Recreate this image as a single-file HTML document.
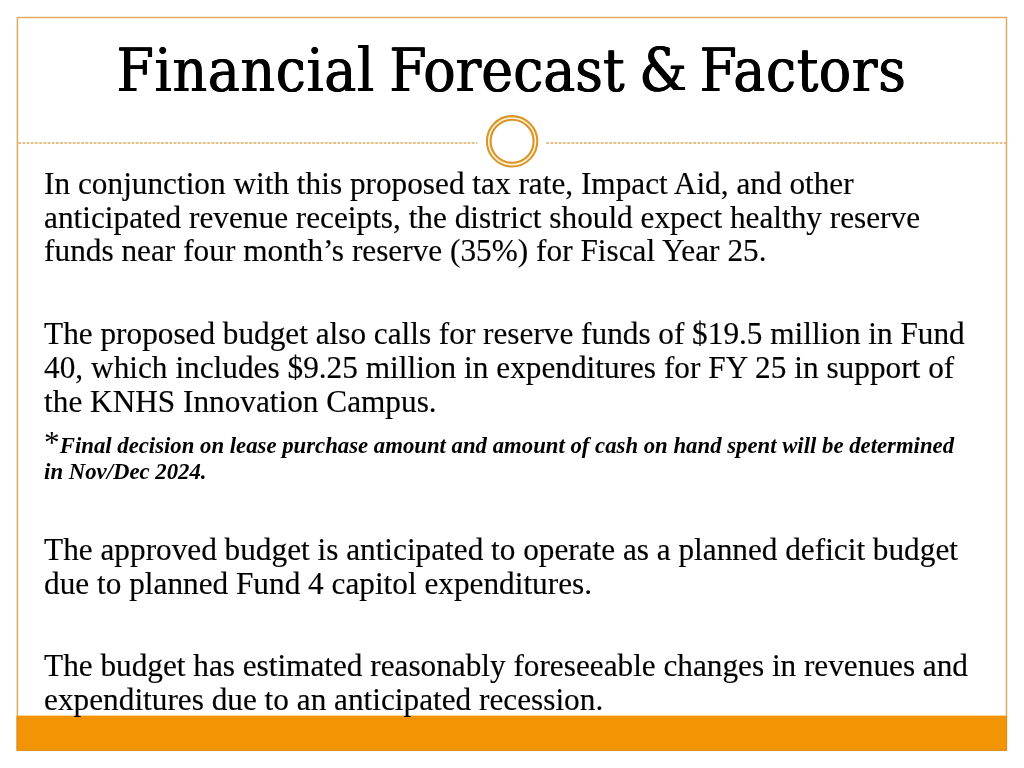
<!DOCTYPE html>
<html lang="en">
<head>
<meta charset="utf-8">
<title>Financial Forecast &amp; Factors</title>
<style>
  html, body { margin: 0; padding: 0; }
  body {
    width: 1024px; height: 768px; overflow: hidden; background: #ffffff;
    position: relative;
    font-family: "Liberation Serif", serif;
    color: #000;
  }
  svg.deco { position: absolute; left: 0; top: 0; }
  .title {
    position: absolute; left: 0; width: 1024px;
    top: 50px; margin: 0; font-weight: normal;
    font-family: "DejaVu Serif Condensed", "DejaVu Serif", "Liberation Serif", serif;
    font-stretch: condensed;
    text-shadow: 0.5px 0 0 #000, -0.5px 0 0 #000;
    font-size: 59.8px; line-height: 40px; height: 40px; white-space: nowrap;
  }
  .title span { position: absolute; top: 0; }
  .para { margin: 0; }
  .ln {
    position: absolute; left: 44.1px; margin: 0; white-space: nowrap; display: block;
    font-size: 31.27px; line-height: 40px; height: 40px;
    -webkit-text-stroke: 0.15px #000;
  }
  .note { font-size: 22.76px; font-weight: bold; font-style: italic; -webkit-text-stroke: 0; }
  .note .star { font-size: 31.27px; font-weight: normal; font-style: normal; line-height: 0; }
</style>
</head>
<body>
  <svg class="deco" width="1024" height="768" viewBox="0 0 1024 768">
    <rect x="17.4" y="17.5" width="989.1" height="732.8" fill="none" stroke="#deab60" stroke-width="1.5"/>
    <line x1="18.2" y1="143" x2="477.3" y2="143" stroke="#e0ac5e" stroke-width="1.7" stroke-dasharray="2.8 1.4"/>
    <line x1="546.2" y1="143" x2="1006" y2="143" stroke="#e0ac5e" stroke-width="1.7" stroke-dasharray="2.8 1.4"/>
    <circle cx="512.1" cy="141.3" r="23.3" fill="#fff" stroke="#fff4d6" stroke-width="3"/>
    <circle cx="512.1" cy="141.3" r="25.2" fill="none" stroke="#d9962b" stroke-width="2.1"/>
    <circle cx="512.1" cy="141.3" r="21.5" fill="none" stroke="#d9962b" stroke-width="2.1"/>
    <rect x="16.5" y="715.6" width="990.2" height="35.1" fill="#f39405"/>
    <path d="M17.3 716.5 V750.2 H1006.4 V716.5" fill="none" stroke="#d8912a" stroke-width="1.1"/>
  </svg>
  <h1 class="title"><span style="left:116.6px;letter-spacing:0.65px">Financial</span> <span style="left:389.2px;letter-spacing:0px">Forecast</span> <span style="left:639.2px;letter-spacing:0px">&amp;</span> <span style="left:699.5px;letter-spacing:0.58px">Factors</span></h1>

  <main class="content">
  <p class="para">
    <span class="ln" style="top:164px;word-spacing:0.03px">In conjunction with this proposed tax rate, Impact Aid, and other</span>
    <span class="ln" style="top:198px">anticipated revenue receipts, the district should expect healthy reserve</span>
    <span class="ln" style="top:231px;word-spacing:0.1px">funds near four month’s reserve (35%) for Fiscal Year 25.</span>
  </p>
  <p class="para">
    <span class="ln" style="top:314px;word-spacing:-0.06px">The proposed budget also calls for reserve funds of $19.5 million in Fund</span>
    <span class="ln" style="top:348px;word-spacing:0.1px">40, which includes $9.25 million in expenditures for FY 25 in support of</span>
    <span class="ln" style="top:382px">the KNHS Innovation Campus.</span>
  </p>
  <p class="para footnote">
    <span class="ln note" style="top:426px"><span class="star">*</span>Final decision on lease purchase amount and amount of cash on hand spent will be determined</span>
    <span class="ln note" style="top:452px">in Nov/Dec 2024.</span>
  </p>
  <p class="para">
    <span class="ln" style="top:530px;word-spacing:-0.03px">The approved budget is anticipated to operate as a planned deficit budget</span>
    <span class="ln" style="top:564px">due to planned Fund 4 capitol expenditures.</span>
  </p>
  <p class="para">
    <span class="ln" style="top:646px;word-spacing:-0.08px">The budget has estimated reasonably foreseeable changes in revenues and</span>
    <span class="ln" style="top:680px">expenditures due to an anticipated recession.</span>
  </p>
  </main>
</body>
</html>
